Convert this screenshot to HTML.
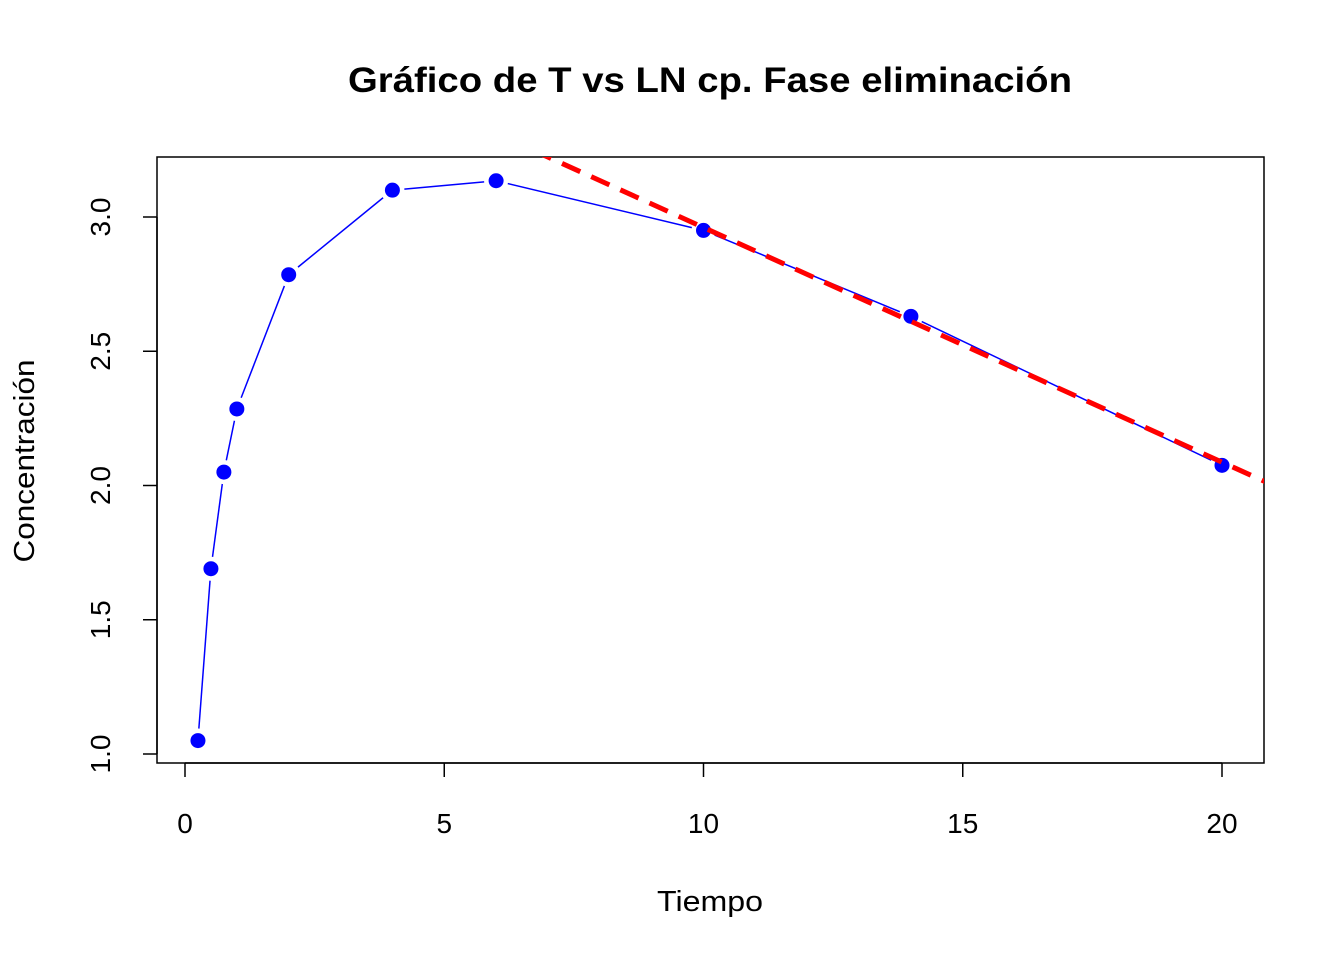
<!DOCTYPE html>
<html><head><meta charset="utf-8"><style>body{margin:0;background:#fff}svg{display:block;font-family:"Liberation Sans",Arial,sans-serif}</style></head>
<body>
<svg id="chart" width="1344" height="960" xmlns="http://www.w3.org/2000/svg">
<text x="710" y="92" text-anchor="middle" font-size="35" font-weight="bold" textLength="724" lengthAdjust="spacingAndGlyphs">Gráfico de T vs LN cp. Fase eliminación</text>
<rect x="157" y="157" width="1107" height="606" fill="none" stroke="#000" stroke-width="1.5"/>
<text x="710" y="911" text-anchor="middle" font-size="29" textLength="106" lengthAdjust="spacingAndGlyphs">Tiempo</text>
<text transform="translate(34,461) rotate(-90)" text-anchor="middle" font-size="29" textLength="203" lengthAdjust="spacingAndGlyphs">Concentración</text>
<g id="axes"></g><g id="series"></g>
</svg>
<script>
const times = [0.25, 0.5, 0.75, 1, 2, 4, 6, 10, 14, 20];
const lnConc = [1.05, 1.69, 2.05, 2.285, 2.785, 3.1, 3.135, 2.95, 2.63, 2.075];
const xTicks = [0, 5, 10, 15, 20];
const xTickLabels = ["0", "5", "10", "15", "20"];
const yTicks = [1.0, 1.5, 2.0, 2.5, 3.0];
const yTickLabels = ["1.0", "1.5", "2.0", "2.5", "3.0"];
const fitIntercept = 3.835;
const fitSlope = -0.0874;
const NS = "http://www.w3.org/2000/svg";
const X = v => 185 + v * 51.85;
const Y = v => 754 - (v - 1) * 268.5;
function mk(tag, attrs, parent, text) {
  const e = document.createElementNS(NS, tag);
  for (const k in attrs) e.setAttribute(k, attrs[k]);
  if (text !== undefined) e.textContent = text;
  parent.appendChild(e); return e;
}
const axes = document.getElementById('axes');
const series = document.getElementById('series');
let e = mk('line', {x1: X(xTicks[0]), x2: X(xTicks[xTicks.length-1]), y1: 763, y2: 763, stroke: '#000', 'stroke-width': 1.5}, axes);


xTicks.forEach((t, i) => {
  const l = mk('line', {x1: X(t), x2: X(t), y1: 763, y2: 777, stroke: '#000', 'stroke-width': 1.5}, axes);
  
  
  const tx = mk('text', {x: X(t), y: 833, 'text-anchor': 'middle', 'font-size': 28}, axes, xTickLabels[i]);
  
  
});
e = mk('line', {x1: 157, x2: 157, y1: Y(yTicks[0]), y2: Y(yTicks[yTicks.length-1]), stroke: '#000', 'stroke-width': 1.5}, axes);


yTicks.forEach((t, i) => {
  const l = mk('line', {x1: 143, x2: 157, y1: Y(t), y2: Y(t), stroke: '#000', 'stroke-width': 1.5}, axes);
  
  
  const tx = mk('text', {x: 0, y: 0, transform: `translate(110,${Y(t)}) rotate(-90)`, 'text-anchor': 'middle', 'font-size': 28}, axes, yTickLabels[i]);
  
  
});
for (let i = 0; i < times.length - 1; i++) {
  const x1 = X(times[i]), y1 = Y(lnConc[i]), x2 = X(times[i+1]), y2 = Y(lnConc[i+1]);
  const d = Math.hypot(x2 - x1, y2 - y1), g = 12;
  if (d <= 2 * g) continue;
  const ux = (x2 - x1) / d, uy = (y2 - y1) / d;
  const s = mk('line', {x1: x1 + ux*g, y1: y1 + uy*g, x2: x2 - ux*g, y2: y2 - uy*g, stroke: '#0000ff', 'stroke-width': 1.5}, series);
  
  
}
times.forEach((t, i) => {
  const c = mk('circle', {cx: X(t), cy: Y(lnConc[i]), r: 7.5, fill: '#0000ff'}, series);
  
  
});
const clip = mk('clipPath', {id: 'pc'}, document.getElementById('chart'));
mk('rect', {x: 157, y: 157, width: 1107, height: 606}, clip);
const xa = -0.6, xb = 20.9;
const fit = mk('line', {x1: X(xa), y1: Y(fitIntercept + fitSlope*xa), x2: X(xb), y2: Y(fitIntercept + fitSlope*xb), stroke: '#ff0000', 'stroke-width': 5, 'stroke-dasharray': '20,12', 'clip-path': 'url(#pc)'}, series);


</script>
</body></html>
